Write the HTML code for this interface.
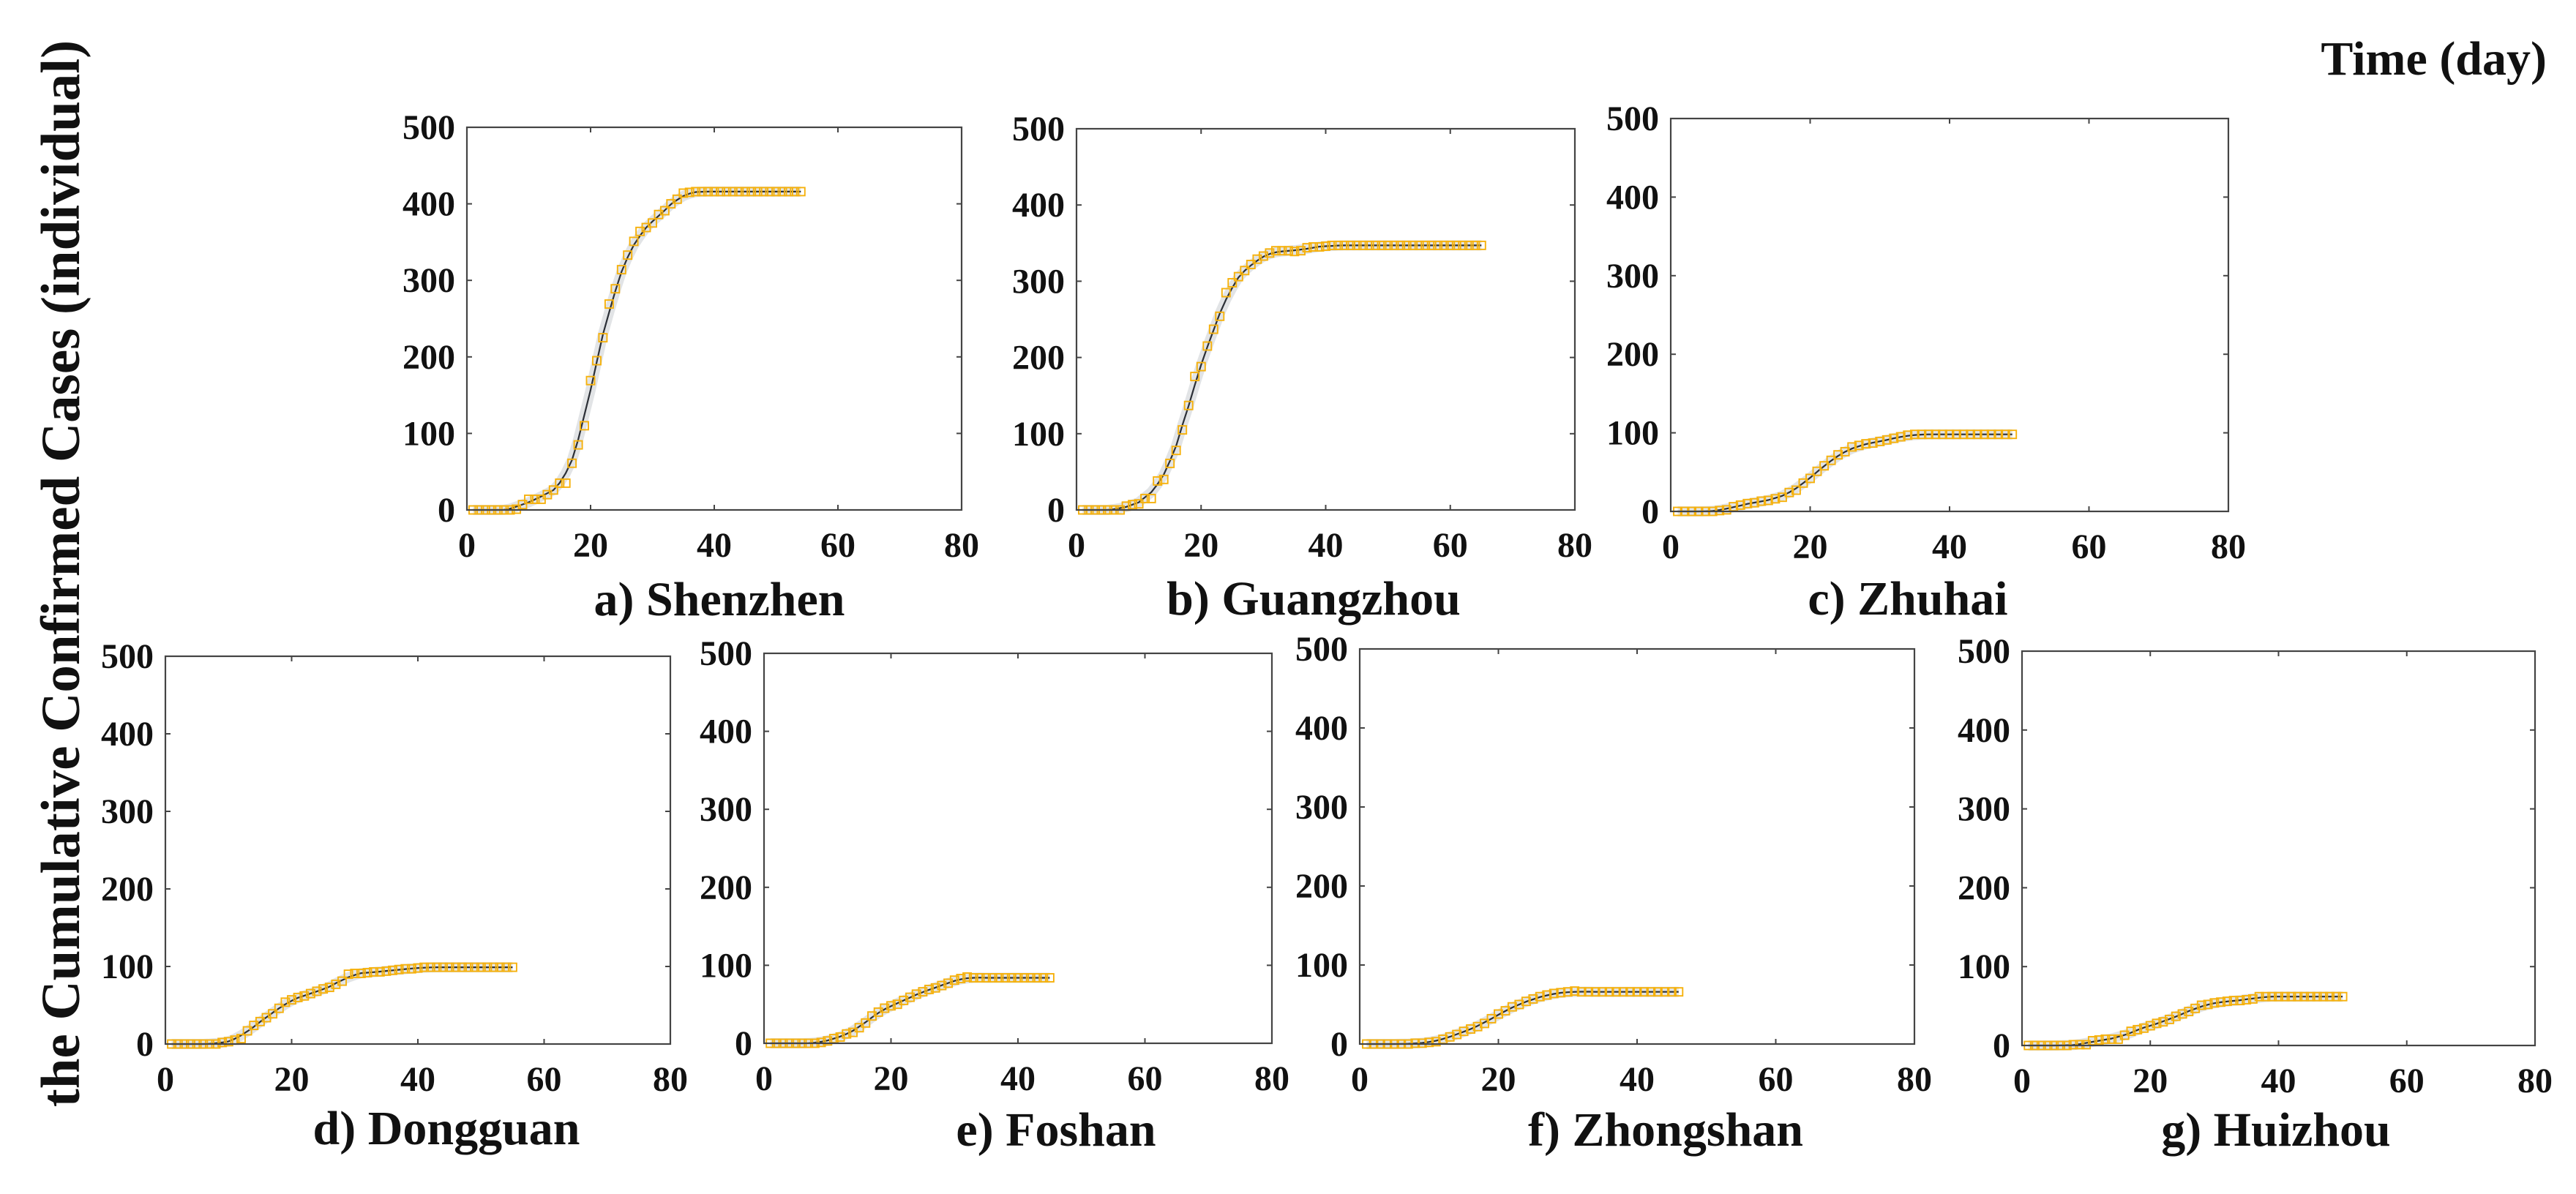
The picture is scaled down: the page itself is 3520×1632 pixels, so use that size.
<!DOCTYPE html>
<html><head><meta charset="utf-8"><style>
html,body{margin:0;padding:0;background:#fff;}
svg{display:block;}
text{font-family:"Liberation Serif",serif;font-weight:bold;fill:#111;}
</style></head><body>
<svg id="chart" width="3520" height="1632" viewBox="0 0 3520 1632" xmlns="http://www.w3.org/2000/svg">
<text x="0" y="0" font-size="75" text-anchor="middle" transform="translate(108,784) rotate(-90)">the Cumulative Confirmed Cases (individual)</text>
<text x="3480" y="102" font-size="66" text-anchor="end">Time (day)</text>
</svg>
<script>
const xTicks = [0, 20, 40, 60, 80];
const yTicks = [0, 100, 200, 300, 400, 500];
const cityNames = ["a) Shenzhen","b) Guangzhou","c) Zhuhai","d) Dongguan","e) Foshan","f) Zhongshan","g) Huizhou"];
const shenzhen = [0,0,0,0,0,0,0,1,7,14,14,14,20,26,35,35,61,85,110,169,195,225,269,289,314,333,351,364,369,375,386,391,400,406,414,415,416,416,416,416,416,416,416,416,416,416,416,416,416,416,416,416,416,416];
const guangzhou = [0,0,0,0,0,0,0,5,7,8,15,15,38,40,61,78,105,137,175,188,215,237,254,285,298,306,314,322,329,333,337,340,340,340,339,340,344,345,345,346,347,347,347,347,347,347,347,347,347,347,347,347,347,347,347,347,347,347,347,347,347,347,347,347,347];
const zhuhai = [0,0,0,0,0,0,1,2,6,8,10,11,13,14,16,18,24,27,36,42,51,58,65,72,76,82,84,86,87,89,91,93,95,97,98,98,98,98,98,98,98,98,98,98,98,98,98,98,98];
const dongguan = [0,0,0,0,0,0,0,0,2,3,5,7,17,24,29,34,39,46,54,57,60,62,65,68,71,73,77,81,90,91,91,92,93,93,94,95,96,97,97,98,99,99,99,99,99,99,99,99,99,99,99,99,99,99,99];
const foshan = [0,0,0,0,0,0,0,0,1,3,6,8,12,14,20,26,35,40,45,48,50,55,59,63,66,69,71,74,77,81,83,85,84,84,84,84,84,84,84,84,84,84,84,84,84];
const zhongshan = [0,0,0,0,0,0,0,1,1,2,3,6,9,12,16,19,22,26,32,38,42,47,50,54,57,60,62,64,65,66,67,66,66,66,66,66,66,66,66,66,66,66,66,66,66,66];
const huizhou = [0,0,0,0,0,0,0,1,1,1,6,7,8,8,8,13,18,20,22,25,28,30,33,37,40,43,47,51,52,54,55,56,57,57,58,59,62,62,62,62,62,62,62,62,62,62,62,62,62,62];

const allSeries = [shenzhen, guangzhou, zhuhai, dongguan, foshan, zhongshan, huizhou];
const boxes = [
  {l:638,r:1314,t:174,b:697,tx:983,ty:841},
  {l:1471,r:2152,t:176,b:697,tx:1795,ty:840},
  {l:2283,r:3045,t:162,b:699,tx:2607,ty:840},
  {l:226,r:916,t:897,b:1427,tx:610,ty:1564},
  {l:1044,r:1738,t:893,b:1426,tx:1443,ty:1566},
  {l:1858,r:2616,t:887,b:1427,tx:2276,ty:1566},
  {l:2763,r:3464,t:890,b:1429,tx:3110,ty:1566}
];
const NS = "http://www.w3.org/2000/svg";
const svg = document.getElementById("chart");
function mk(tag, attrs, parent){
  const e = document.createElementNS(NS, tag);
  for (const k in attrs) e.setAttribute(k, attrs[k]);
  (parent||svg).appendChild(e);
  return e;
}
allSeries.forEach((data, pi) => {
  const bx = boxes[pi];
  const xS = v => bx.l + (v - 0) / 80 * (bx.r - bx.l);
  const yS = v => bx.b - v / 500 * (bx.b - bx.t);
  const g = mk("g", {});
  
  
  const fit = data.map((v, i) => {
    let s = 0, n = 0;
    for (let k = -2; k <= 2; k++) { const j = i + k; if (j >= 0 && j < data.length) { s += data[j]; n++; } }
    return s / n;
  });
  let d = "";
  fit.forEach((v, i) => { d += (i ? "L" : "M") + xS(i + 1).toFixed(1) + "," + yS(v).toFixed(1); });
  const band = mk("path", {d: d, fill: "none", stroke: "#e2e4e6", "stroke-width": 14, "stroke-linejoin": "round"}, g);
  
  
  const line = mk("path", {d: d, fill: "none", stroke: "#2b2f36", "stroke-width": 2.2, "stroke-linejoin": "round"}, g);
  
  
  data.forEach((v, i) => {
    const r = mk("rect", {x: (xS(i + 1) - 5.5).toFixed(1), y: (yS(v) - 5.5).toFixed(1), width: 11, height: 11, fill: "none", stroke: "#f6b10c", "stroke-width": 1.9}, g);
    
    
  });
  const box = mk("rect", {x: bx.l, y: bx.t, width: bx.r - bx.l, height: bx.b - bx.t, fill: "none", stroke: "#444", "stroke-width": 2.2}, g);
  
  
  xTicks.forEach(t => {
    const x = xS(t);
    if (t > 0 && t < 80) {
      mk("line", {x1: x, x2: x, y1: bx.b, y2: bx.b - 7, stroke: "#444", "stroke-width": 2}, g);
      mk("line", {x1: x, x2: x, y1: bx.t, y2: bx.t + 7, stroke: "#444", "stroke-width": 2}, g);
    }
    const tl = mk("text", {x: x, y: bx.b + 64, "font-size": 48, "text-anchor": "middle"}, g);
    tl.textContent = t;
    
    
  });
  yTicks.forEach(t => {
    const y = yS(t);
    if (t > 0 && t < 500) {
      mk("line", {x1: bx.l, x2: bx.l + 7, y1: y, y2: y, stroke: "#444", "stroke-width": 2}, g);
      mk("line", {x1: bx.r, x2: bx.r - 7, y1: y, y2: y, stroke: "#444", "stroke-width": 2}, g);
    }
    const tl = mk("text", {x: bx.l - 16, y: y + 16, "font-size": 48, "text-anchor": "end"}, g);
    tl.textContent = t;
    
    
  });
  const title = mk("text", {x: bx.tx, y: bx.ty, "font-size": 66, "text-anchor": "middle"}, g);
  title.textContent = cityNames[pi];
  
  
});
</script>
</body></html>
